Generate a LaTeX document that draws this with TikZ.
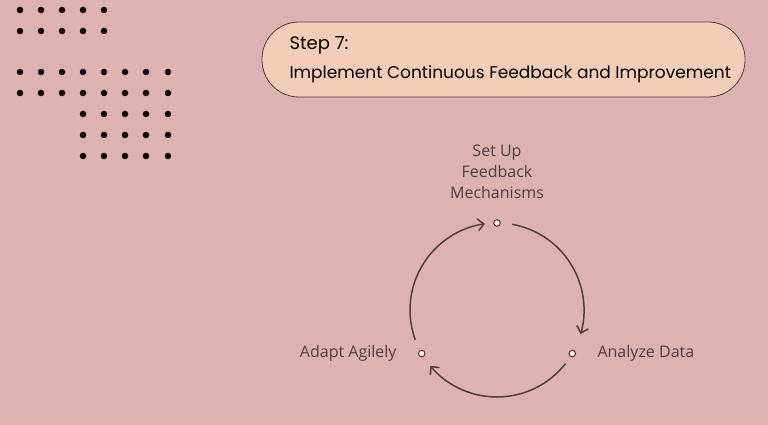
\documentclass[tikz,border=0pt]{standalone}
\usepackage{fontspec}
\setmainfont{Open Sans}
\newfontfamily\titlefont{Poppins}
\usetikzlibrary{arrows.meta}
\definecolor{bg}{HTML}{DFB2B2}
\definecolor{boxc}{HTML}{F4CDB8}
\definecolor{ink}{HTML}{4A4040}
\begin{document}
\begin{tikzpicture}[x=1pt,y=-1pt,
  dotc/.style={fill=black,circle,inner sep=0pt,minimum size=6.5pt},
  cyc/.style={draw=ink,line width=1.5pt,-{Straight Barb[length=6pt,width=12pt]}},
  pt/.style={circle,draw=ink,fill=white,line width=1.1pt,inner sep=0pt,minimum size=6.5pt},
  lbl/.style={text=ink,font=\fontsize{16}{21}\selectfont,align=center}]
\fill[bg] (0,0) rectangle (768,425);
\useasboundingbox (0,0) rectangle (768,425);
\foreach \y in {10,31} \foreach \x in {20,41,62,83,104} \node[dotc] at (\x,\y) {};
\foreach \y in {72,93} \foreach \x in {20,41,62,83,104,125,146,168} \node[dotc] at (\x,\y) {};
\foreach \y in {114,135,156} \foreach \x in {83,104,125,146,168} \node[dotc] at (\x,\y) {};
\draw[fill=boxc,draw=ink,line width=0.8pt,rounded corners=37pt] (262,22) rectangle (745,97);
\node[anchor=west,font=\titlefont\fontsize{18}{20}\selectfont,text=black] (t1) at (286,45) {Step 7:};
\node[anchor=west,font=\titlefont\fontsize{17}{20}\selectfont,text=black] (t2) at (286,74) {Implement Continuous Feedback and Improvement};
\coordinate (c) at (497,310);
\node[pt] (p1) at (497,223) {};
\node[pt] (p2) at (572.3,353.5) {};
\node[pt] (p3) at (421.7,353.5) {};
\draw[cyc] ([shift={(-80:87)}]c) arc[start angle=-80,end angle=16,radius=87];
\draw[cyc] ([shift={(38:87)}]c) arc[start angle=38,end angle=140,radius=87];
\draw[cyc] ([shift={(-200:87)}]c) arc[start angle=-200,end angle=-98,radius=87];
\node[lbl,anchor=south] (l1) at (497,202) {Set Up\\Feedback\\Mechanisms};
\node[lbl,anchor=west] (l2) at (594,353) {Analyze Data};
\node[lbl,anchor=east] (l3) at (400,353) {Adapt Agilely};
\end{tikzpicture}
\end{document}
